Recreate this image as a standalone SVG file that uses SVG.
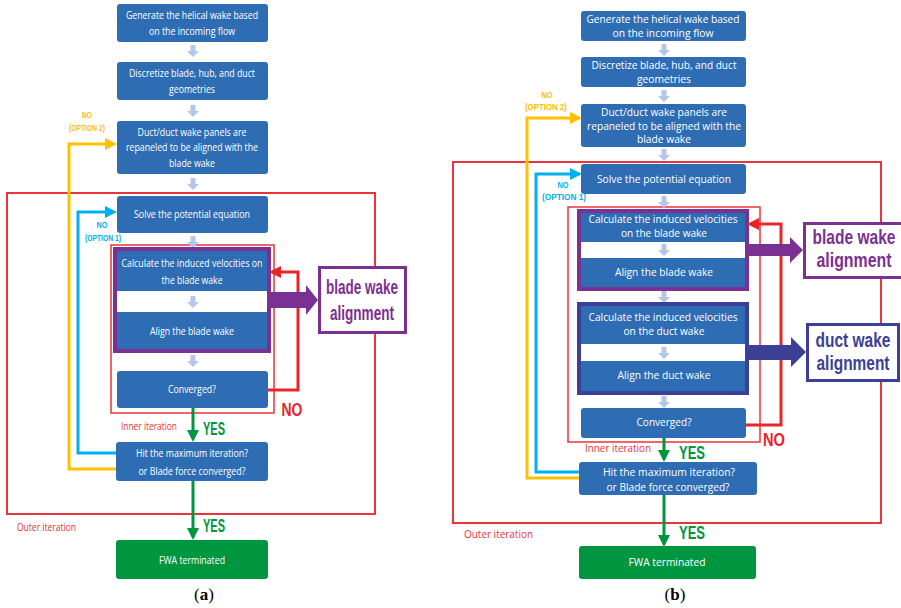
<svg xmlns="http://www.w3.org/2000/svg" xmlns:xlink="http://www.w3.org/1999/xlink" width="901" height="608" viewBox="0 0 901 608">
<style>
.bx{fill:#2E6DB4;}
.fw{fill:#00963F;}
.t{font-family:"Open Sans","Liberation Sans",sans-serif;fill:#fff;text-anchor:middle;}
.tl{font-size:11px;}
.tr{font-size:11px;}
.red{fill:none;stroke:#E8343A;}
.lbl{font-family:"Liberation Sans",Arial,sans-serif;font-weight:bold;text-anchor:middle;}
.big{font-family:"Liberation Sans",Arial,sans-serif;font-weight:bold;text-anchor:middle;font-size:20px;}
.it{font-family:"Open Sans","Liberation Sans",sans-serif;fill:#E8343A;font-size:11px;}
.pa{fill:#B4C7E7;}
.g{stroke:#00963F;stroke-width:3;fill:none;}
.cy{stroke:#00B0F0;stroke-width:3;fill:none;}
.ye{stroke:#FFC000;stroke-width:3;fill:none;}
.rl{stroke:#E8242B;stroke-width:3;fill:none;}
</style>
<defs>
<path id="pa" class="pa" d="M-2.5,0 H2.5 V6 H6 L0,12 L-6,6 H-2.5 Z"/>
<marker id="mg" markerWidth="4" markerHeight="4" refX="3" refY="2" orient="auto" markerUnits="strokeWidth"><path d="M0,0 L4,2 L0,4 Z" fill="#00963F"/></marker>
<marker id="mc" markerWidth="4" markerHeight="4" refX="3" refY="2" orient="auto" markerUnits="strokeWidth"><path d="M0,0 L4,2 L0,4 Z" fill="#00B0F0"/></marker>
<marker id="my" markerWidth="4" markerHeight="4" refX="3" refY="2" orient="auto" markerUnits="strokeWidth"><path d="M0,0 L4,2 L0,4 Z" fill="#FFC000"/></marker>
<marker id="mr" markerWidth="4" markerHeight="4" refX="3" refY="2" orient="auto" markerUnits="strokeWidth"><path d="M0,0 L4,2 L0,4 Z" fill="#E8242B"/></marker>
</defs>
<rect width="901" height="608" fill="#fff"/>

<!-- ===== (a) ===== -->
<g id="a-frames">
<rect class="red" x="7" y="193" width="368" height="321" stroke-width="2"/>
<rect class="red" x="111" y="245" width="163" height="168" stroke-width="1.5"/>
<text class="it" x="17" y="531" textLength="59" lengthAdjust="spacingAndGlyphs">Outer iteration</text>
<text class="it" x="121" y="430" textLength="56" lengthAdjust="spacingAndGlyphs">Inner iteration</text>
</g>
<g id="a-pale-arrows">
<use xlink:href="#pa" x="193" y="45"/>
<use xlink:href="#pa" x="193" y="105"/>
<use xlink:href="#pa" x="193" y="178"/>
<use xlink:href="#pa" x="193" y="236"/>
<use xlink:href="#pa" x="193" y="355"/>
</g>
<g id="a-n1">
<rect class="bx" x="117" y="4" width="151" height="38" rx="3"/>
<text class="t tl" x="192" y="19" textLength="132" lengthAdjust="spacingAndGlyphs">Generate the helical wake based</text>
<text class="t tl" x="192" y="35" textLength="86" lengthAdjust="spacingAndGlyphs">on the incoming flow</text>
</g>
<g id="a-n2">
<rect class="bx" x="117" y="62" width="151" height="38" rx="3"/>
<text class="t tl" x="192" y="77" textLength="126" lengthAdjust="spacingAndGlyphs">Discretize blade, hub, and duct</text>
<text class="t tl" x="192" y="93" textLength="46" lengthAdjust="spacingAndGlyphs">geometries</text>
</g>
<g id="a-n3">
<rect class="bx" x="117" y="121" width="151" height="53" rx="3"/>
<text class="t tl" x="192" y="136" textLength="109" lengthAdjust="spacingAndGlyphs">Duct/duct wake panels are</text>
<text class="t tl" x="192" y="151" textLength="132" lengthAdjust="spacingAndGlyphs">repaneled to be aligned with the</text>
<text class="t tl" x="192" y="167" textLength="46" lengthAdjust="spacingAndGlyphs">blade wake</text>
</g>
<g id="a-n4">
<rect class="bx" x="117" y="196" width="151" height="37" rx="3"/>
<text class="t tl" x="192" y="218" textLength="116" lengthAdjust="spacingAndGlyphs">Solve the potential equation</text>
</g>
<g id="a-n5">
<rect x="115" y="249" width="154" height="102" fill="#fff" stroke="#7B3192" stroke-width="4"/>
<rect class="bx" x="117" y="251" width="150" height="40"/>
<rect class="bx" x="117" y="312" width="150" height="37"/>
<use xlink:href="#pa" x="193" y="296"/>
<text class="t tl" x="192" y="267" textLength="141" lengthAdjust="spacingAndGlyphs">Calculate the induced velocities on</text>
<text class="t tl" x="192" y="284" textLength="61" lengthAdjust="spacingAndGlyphs">the blade wake</text>
<text class="t tl" x="192" y="335" textLength="84" lengthAdjust="spacingAndGlyphs">Align the blade wake</text>
</g>
<g id="a-n6">
<rect class="bx" x="117" y="371" width="151" height="37" rx="3"/>
<text class="t tl" x="192" y="393" textLength="48" lengthAdjust="spacingAndGlyphs">Converged?</text>
</g>
<g id="a-n7">
<rect class="bx" x="116" y="442" width="152" height="39" rx="3"/>
<text class="t tl" x="192" y="457" textLength="112" lengthAdjust="spacingAndGlyphs">Hit the maximum iteration?</text>
<text class="t tl" x="192" y="475" textLength="107" lengthAdjust="spacingAndGlyphs">or Blade force converged?</text>
</g>
<g id="a-n8">
<rect class="fw" x="116" y="540" width="152" height="39" rx="3"/>
<text class="t tl" x="192" y="564" textLength="66" lengthAdjust="spacingAndGlyphs">FWA terminated</text>
</g>
<g id="a-n9">
<rect x="319.5" y="267.5" width="86" height="65" fill="#fff" stroke="#7B3192" stroke-width="3"/>
<text class="big" x="362" y="294" fill="#7B3192" textLength="72" lengthAdjust="spacingAndGlyphs">blade wake</text>
<text class="big" x="362" y="320" fill="#7B3192" textLength="64" lengthAdjust="spacingAndGlyphs">alignment</text>
</g>
<g id="a-connectors">
<path class="g" d="M193,408 V439" marker-end="url(#mg)"/>
<path class="g" d="M193,481 V537" marker-end="url(#mg)"/>
<path class="cy" d="M116,453 H78 V212 H114" marker-end="url(#mc)"/>
<path class="ye" d="M116,469 H69 V144 H114" marker-end="url(#my)"/>
<path class="rl" d="M268,390 H298 V272 H272" marker-end="url(#mr)"/>
<path d="M269,292 H306 V285 L318,300 L306,315 V308 H269 Z" fill="#7B3192"/>
<text class="lbl" x="214" y="435" fill="#00963F" font-size="18" textLength="22" lengthAdjust="spacingAndGlyphs">YES</text>
<text class="lbl" x="214" y="532" fill="#00963F" font-size="18" textLength="22" lengthAdjust="spacingAndGlyphs">YES</text>
<text class="lbl" x="292" y="416" fill="#E8242B" font-size="18" textLength="21" lengthAdjust="spacingAndGlyphs">NO</text>
<text class="lbl" x="102" y="228" fill="#00B0F0" font-size="8.5" textLength="11" lengthAdjust="spacingAndGlyphs">NO</text>
<text class="lbl" x="103" y="241" fill="#00B0F0" font-size="8.5" textLength="36" lengthAdjust="spacingAndGlyphs">(OPTION 1)</text>
<text class="lbl" x="87" y="118" fill="#FFC000" font-size="8.5" textLength="10" lengthAdjust="spacingAndGlyphs">NO</text>
<text class="lbl" x="87" y="131" fill="#FFC000" font-size="8.5" textLength="36" lengthAdjust="spacingAndGlyphs">(OPTION 2)</text>
</g>
<text x="204" y="600" font-family="Liberation Serif,serif" font-size="17" text-anchor="middle">(<tspan font-weight="bold">a</tspan>)</text>

<!-- ===== (b) ===== -->
<g id="b-frames">
<rect class="red" x="453" y="162" width="428" height="361" stroke-width="2"/>
<rect class="red" x="568" y="207" width="192" height="235" stroke-width="1.5"/>
<text class="it" x="464" y="538" textLength="69" lengthAdjust="spacingAndGlyphs">Outer iteration</text>
<text class="it" x="585" y="452" textLength="66" lengthAdjust="spacingAndGlyphs">Inner iteration</text>
</g>
<g id="b-pale-arrows">
<use xlink:href="#pa" x="664" y="44"/>
<use xlink:href="#pa" x="664" y="90"/>
<use xlink:href="#pa" x="664" y="149"/>
<use xlink:href="#pa" x="664" y="196"/>
<use xlink:href="#pa" x="664" y="291"/>
<use xlink:href="#pa" x="664" y="396"/>
</g>
<g id="b-n1">
<rect class="bx" x="581" y="11" width="165" height="30" rx="3"/>
<text class="t tr" x="663" y="23" textLength="153" lengthAdjust="spacingAndGlyphs">Generate the helical wake based</text>
<text class="t tr" x="663" y="37" textLength="101" lengthAdjust="spacingAndGlyphs">on the incoming flow</text>
</g>
<g id="b-n2">
<rect class="bx" x="581" y="57" width="165" height="30" rx="3"/>
<text class="t tr" x="664" y="69" textLength="145" lengthAdjust="spacingAndGlyphs">Discretize blade, hub, and duct</text>
<text class="t tr" x="664" y="83" textLength="54" lengthAdjust="spacingAndGlyphs">geometries</text>
</g>
<g id="b-n3">
<rect class="bx" x="581" y="104" width="165" height="43" rx="3"/>
<text class="t tr" x="664" y="116" textLength="126" lengthAdjust="spacingAndGlyphs">Duct/duct wake panels are</text>
<text class="t tr" x="664" y="130" textLength="154" lengthAdjust="spacingAndGlyphs">repaneled to be aligned with the</text>
<text class="t tr" x="664" y="143" textLength="54" lengthAdjust="spacingAndGlyphs">blade wake</text>
</g>
<g id="b-n4">
<rect class="bx" x="581" y="164" width="165" height="30" rx="3"/>
<text class="t tr" x="664" y="183" textLength="134" lengthAdjust="spacingAndGlyphs">Solve the potential equation</text>
</g>
<g id="b-n5">
<rect x="579" y="211" width="168" height="78" fill="#fff" stroke="#7B3192" stroke-width="4"/>
<rect class="bx" x="581" y="213" width="164" height="29"/>
<rect class="bx" x="581" y="258" width="164" height="29"/>
<use xlink:href="#pa" x="664" y="244"/>
<text class="t tr" x="663" y="223" textLength="149" lengthAdjust="spacingAndGlyphs">Calculate the induced velocities</text>
<text class="t tr" x="664" y="237" textLength="86" lengthAdjust="spacingAndGlyphs">on the blade wake</text>
<text class="t tr" x="664" y="276" textLength="98" lengthAdjust="spacingAndGlyphs">Align the blade wake</text>
</g>
<g id="b-n6">
<rect x="579" y="304" width="168" height="89" fill="#fff" stroke="#3C3F96" stroke-width="4"/>
<rect class="bx" x="581" y="306" width="164" height="38"/>
<rect class="bx" x="581" y="361" width="164" height="30"/>
<use xlink:href="#pa" x="664" y="347"/>
<text class="t tr" x="663" y="321" textLength="149" lengthAdjust="spacingAndGlyphs">Calculate the induced velocities</text>
<text class="t tr" x="664" y="335" textLength="81" lengthAdjust="spacingAndGlyphs">on the duct wake</text>
<text class="t tr" x="664" y="379" textLength="93" lengthAdjust="spacingAndGlyphs">Align the duct wake</text>
</g>
<g id="b-n7">
<rect class="bx" x="581" y="408" width="165" height="30" rx="3"/>
<text class="t tr" x="664" y="426" textLength="55" lengthAdjust="spacingAndGlyphs">Converged?</text>
</g>
<g id="b-n8">
<rect class="bx" x="579" y="462" width="178" height="33" rx="3"/>
<text class="t tr" x="669" y="476" textLength="132" lengthAdjust="spacingAndGlyphs">Hit the maximum iteration?</text>
<text class="t tr" x="668" y="491" textLength="123" lengthAdjust="spacingAndGlyphs">or Blade force converged?</text>
</g>
<g id="b-n9">
<rect class="fw" x="579" y="546" width="177" height="33" rx="3"/>
<text class="t tr" x="667" y="566" textLength="77" lengthAdjust="spacingAndGlyphs">FWA terminated</text>
</g>
<g id="b-n10">
<rect x="804.5" y="223.5" width="100" height="54" fill="#fff" stroke="#7B3192" stroke-width="3"/>
<text class="big" x="854" y="244" fill="#7B3192" font-size="17" textLength="83" lengthAdjust="spacingAndGlyphs">blade wake</text>
<text class="big" x="854" y="267" fill="#7B3192" font-size="17" textLength="75" lengthAdjust="spacingAndGlyphs">alignment</text>
</g>
<g id="b-n11">
<rect x="807.5" y="324.5" width="91" height="56" fill="#fff" stroke="#3C3F96" stroke-width="3"/>
<text class="big" x="853" y="347" fill="#3C3F96" font-size="17" textLength="75" lengthAdjust="spacingAndGlyphs">duct wake</text>
<text class="big" x="853" y="370" fill="#3C3F96" font-size="17" textLength="73" lengthAdjust="spacingAndGlyphs">alignment</text>
</g>
<g id="b-connectors">
<path class="g" d="M664,438 V459" marker-end="url(#mg)"/>
<path class="g" d="M664,495 V544" marker-end="url(#mg)"/>
<path class="cy" d="M579,472 H536 V174 H579" marker-end="url(#mc)"/>
<path class="ye" d="M579,478 H527 V118 H579" marker-end="url(#my)"/>
<path class="rl" d="M746,425 H781 V224 H750" marker-end="url(#mr)"/>
<path d="M747,244 H790 V237 L803,250 L790,263 V256 H747 Z" fill="#7B3192"/>
<path d="M747,345 H791 V337 L806,352 L791,367 V360 H747 Z" fill="#3C3F96"/>
<text class="lbl" x="692" y="459" fill="#00963F" font-size="18" textLength="26" lengthAdjust="spacingAndGlyphs">YES</text>
<text class="lbl" x="692" y="539" fill="#00963F" font-size="18" textLength="26" lengthAdjust="spacingAndGlyphs">YES</text>
<text class="lbl" x="774" y="446" fill="#E8242B" font-size="18" textLength="22" lengthAdjust="spacingAndGlyphs">NO</text>
<text class="lbl" x="563" y="188" fill="#00B0F0" font-size="8.5" textLength="11" lengthAdjust="spacingAndGlyphs">NO</text>
<text class="lbl" x="564" y="200" fill="#00B0F0" font-size="8.5" textLength="44" lengthAdjust="spacingAndGlyphs">(OPTION 1)</text>
<text class="lbl" x="547" y="98" fill="#FFC000" font-size="8.5" textLength="11" lengthAdjust="spacingAndGlyphs">NO</text>
<text class="lbl" x="546" y="110" fill="#FFC000" font-size="8.5" textLength="42" lengthAdjust="spacingAndGlyphs">(OPTION 2)</text>
</g>
<text x="675" y="600" font-family="Liberation Serif,serif" font-size="17" text-anchor="middle">(<tspan font-weight="bold">b</tspan>)</text>
</svg>
